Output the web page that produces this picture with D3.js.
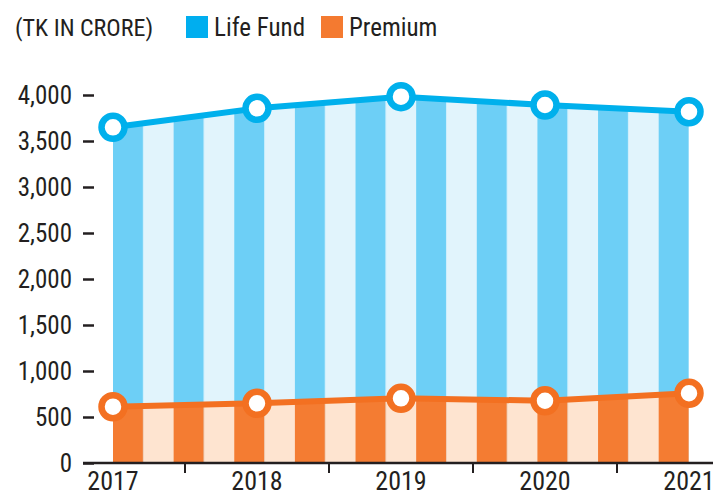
<!DOCTYPE html>
<html>
<head>
<meta charset="utf-8">
<script src="https://cdn.jsdelivr.net/npm/d3@7"></script>
<style>
  body { margin: 0; background: #fff; }
  text { font-family: "Liberation Sans Narrow", "Roboto Condensed", "DejaVu Sans Condensed", sans-serif; fill: #231f20; }
</style>
</head>
<body>
<div class="chart"></div>
<script>
const years = ["2017", "2018", "2019", "2020", "2021"];
const lifeFund = [3649, 3855, 3982, 3891, 3818];
const premium = [612, 649, 703, 677, 758];
const yTicks = [0, 500, 1000, 1500, 2000, 2500, 3000, 3500, 4000];

let width = 713,
  height = 495;

let svg = d3
  .select(".chart")
  .append("svg")
  .attr("width", width)
  .attr("height", height);

let x = d3.scalePoint().domain(years).range([113, 689]);
let y = d3.scaleLinear().domain([0, 4000]).range([463, 95]);

// stripe width: 19 stripes between first and last year
let stripe = (x(years[4]) - x(years[0])) / 19;

let defs = svg.append("defs");
function stripes(id, dark, light) {
  let p = defs
    .append("pattern")
    .attr("id", id)
    .attr("patternUnits", "userSpaceOnUse")
    .attr("x", x(years[0]))
    .attr("y", 0)
    .attr("width", stripe * 2)
    .attr("height", height);
  p.append("rect").attr("width", stripe).attr("height", height).attr("fill", dark);
  p.append("rect").attr("x", stripe).attr("width", stripe).attr("height", height).attr("fill", light);
}
stripes("blueStripes", "#6dcff6", "#e1f4fc");
stripes("orangeStripes", "#f47c32", "#fee4d0");

const series = [
  { name: "Life Fund", values: lifeFund, line: "#00b0ec", fill: "url(#blueStripes)" },
  { name: "Premium", values: premium, line: "#f37021", fill: "url(#orangeStripes)" }
];

let area = d3
  .area()
  .x((d, i) => x(years[i]))
  .y0(y(0))
  .y1((d) => y(d));

let line = d3
  .line()
  .x((d, i) => x(years[i]))
  .y((d) => y(d));

series.forEach((s) => {
  svg.append("path").attr("d", area(s.values)).attr("fill", s.fill);
});

series.forEach((s) => {
  svg
    .append("path")
    .attr("d", line(s.values))
    .attr("fill", "none")
    .attr("stroke", s.line)
    .attr("stroke-width", 6);
  svg
    .selectAll(".dot-" + s.name.replace(" ", ""))
    .data(s.values)
    .enter()
    .append("circle")
    .attr("cx", (d, i) => x(years[i]))
    .attr("cy", (d) => y(d))
    .attr("r", 11.5)
    .attr("fill", "#fff")
    .attr("stroke", s.line)
    .attr("stroke-width", 6.5);
});

// ---- Y AXIS ----
let yAxis = d3
  .axisLeft(y)
  .tickValues(yTicks)
  .tickSize(11)
  .tickPadding(11)
  .tickFormat(d3.format(","));

let yAxisGroup = svg
  .append("g")
  .attr("class", "y-axis")
  .attr("transform", "translate(94,0)")
  .call(yAxis);
yAxisGroup.select(".domain").remove();
yAxisGroup.selectAll("line").attr("stroke", "#231f20").attr("stroke-width", 2.5);
yAxisGroup.selectAll("text").attr("font-size", 25).attr("fill", "#231f20");

// ---- X AXIS ----
svg
  .append("line")
  .attr("x1", 83)
  .attr("x2", 713)
  .attr("y1", y(0))
  .attr("y2", y(0))
  .attr("stroke", "#231f20")
  .attr("stroke-width", 2.5);

let mids = years.slice(1).map((yr, i) => (x(years[i]) + x(yr)) / 2);
svg
  .selectAll(".x-tick")
  .data(mids)
  .enter()
  .append("line")
  .attr("x1", (d) => d)
  .attr("x2", (d) => d)
  .attr("y1", y(0))
  .attr("y2", y(0) + 10)
  .attr("stroke", "#231f20")
  .attr("stroke-width", 2);

svg
  .selectAll(".x-label")
  .data(years)
  .enter()
  .append("text")
  .attr("x", (d) => x(d))
  .attr("y", y(0) + 27)
  .attr("text-anchor", "middle")
  .attr("font-size", 26)
  .text((d) => d);

// ---- TITLE & LEGEND ----
svg.append("text").attr("x", 15).attr("y", 36).attr("font-size", 24).text("(TK IN CRORE)");

let legend = [
  { label: "Life Fund", color: "#00aeef", x: 186 },
  { label: "Premium", color: "#f47a30", x: 321 }
];
legend.forEach((l) => {
  svg.append("rect").attr("x", l.x).attr("y", 16).attr("width", 22).attr("height", 22).attr("fill", l.color);
  svg.append("text").attr("x", l.x + 28).attr("y", 36).attr("font-size", 25).text(l.label);
});
</script>
</body>
</html>
